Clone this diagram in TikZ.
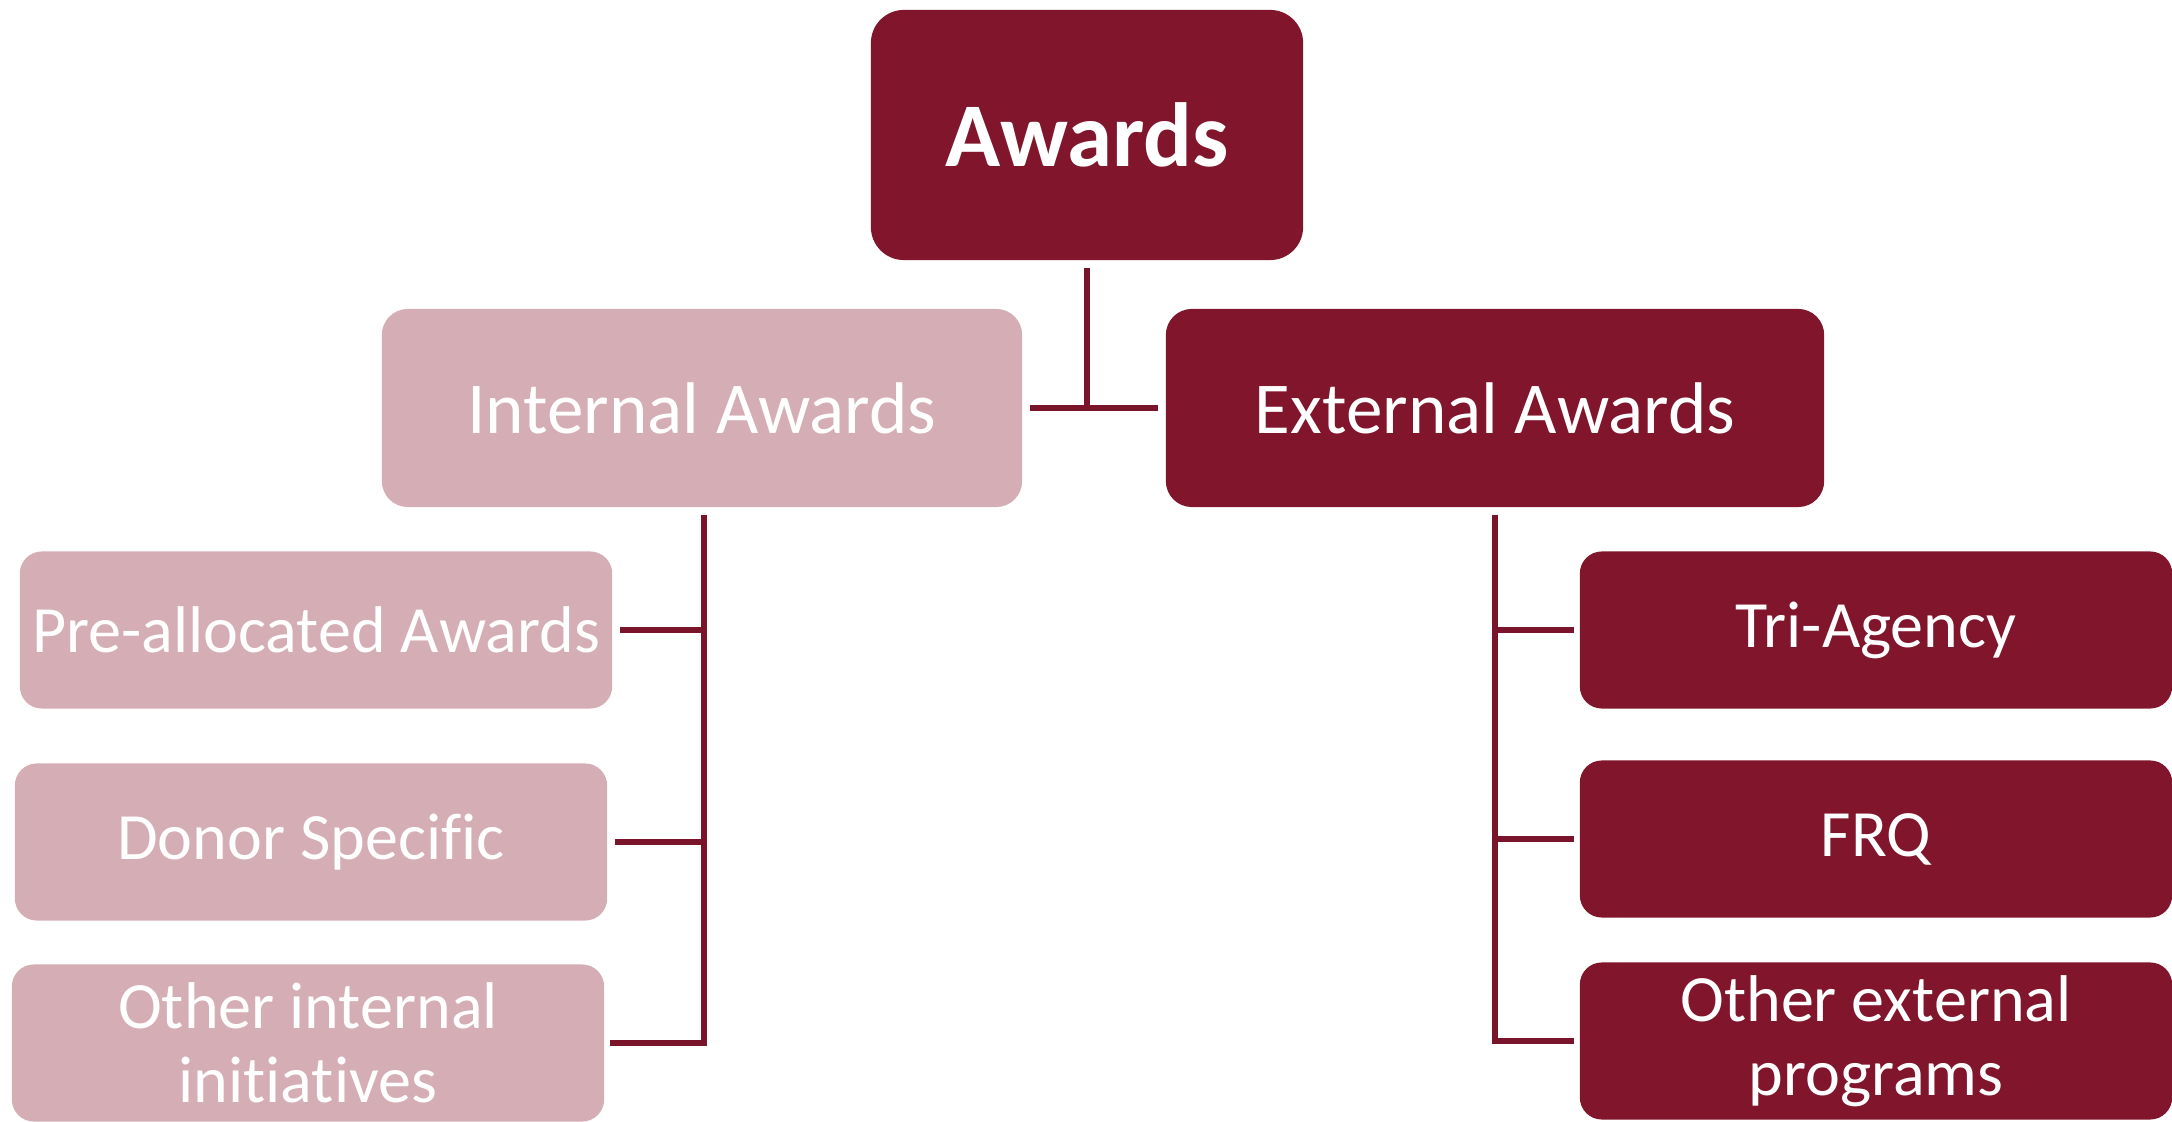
\documentclass[tikz,border=0pt]{standalone}
\usepackage{fontspec}
\setmainfont{Carlito}[Ligatures={NoCommon,NoRare,NoContextual}]
\definecolor{maroon}{RGB}{128,21,44}
\definecolor{rose}{RGB}{212,174,180}
\tikzset{
  box/.style={rectangle, text=white, align=center, inner sep=0pt},
  rootbox/.style={box, fill=maroon, rounded corners=0.33cm, minimum width=4.32cm, minimum height=2.50cm,
    font=\fontsize{25.9}{31}\selectfont\bfseries},
  midint/.style={box, fill=rose, rounded corners=0.26cm, minimum width=6.40cm, minimum height=1.98cm,
    font=\fontsize{20.8}{24}\selectfont},
  midext/.style={box, fill=maroon, rounded corners=0.26cm, minimum width=6.58cm, minimum height=1.98cm,
    font=\fontsize{20.8}{24}\selectfont},
  leafint/.style={box, fill=rose, rounded corners=0.22cm, minimum width=5.92cm, minimum height=1.57cm,
    font=\fontsize{18.8}{20.9}\selectfont},
  leafext/.style={box, fill=maroon, rounded corners=0.22cm, minimum width=5.92cm, minimum height=1.57cm,
    font=\fontsize{18.8}{20.9}\selectfont},
  link/.style={draw=maroon!95!black, line width=1.7pt}
}
\begin{document}
\begin{tikzpicture}[x=0.01cm, y=-0.01cm]
\useasboundingbox (0,0) rectangle (2172,1122);
\node[rootbox] (top) at (1087,135) {Awards};
\node[midint] (int) at (702,408) {Internal Awards};
\node[midext] (ext) at (1495,408) {External Awards};
\node[leafint] (pre) at (316,630) {Pre-allocated Awards};
\node[leafint] (donor) at (311,842) {Donor Specific};
\node[leafint] (oint) at (308,1043) {Other internal\\initiatives};
\node[leafext] (tri) at (1876,630) {Tri-Agency};
\node[leafext] (frq) at (1876,839) {FRQ};
\node[leafext] (oext) at (1876,1041) {Other external\\programs};
% top level
\draw[link] ([yshift=-0.07cm]top.south) -- (top.south |- int.east);
\draw[link] ([xshift=0.07cm]int.east) -- ([xshift=-0.07cm]ext.west);
% internal branch
\draw[link] ([xshift=0.02cm,yshift=-0.07cm]int.south) |- ([xshift=0.05cm]oint.east);
\draw[link] ([xshift=0.07cm]pre.east) -- ([xshift=0.02cm]pre.east -| int.south);
\draw[link] ([xshift=0.07cm]donor.east) -- ([xshift=0.02cm]donor.east -| int.south);
% external branch
\draw[link] ([yshift=-0.07cm]ext.south) |- ([xshift=-0.05cm]oext.west);
\draw[link] ([xshift=-0.05cm]tri.west) -- (tri.west -| ext.south);
\draw[link] ([xshift=-0.05cm]frq.west) -- (frq.west -| ext.south);
\end{tikzpicture}
\end{document}
